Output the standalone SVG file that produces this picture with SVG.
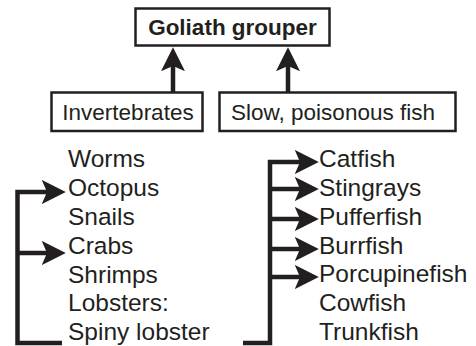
<svg xmlns="http://www.w3.org/2000/svg" width="476" height="346" viewBox="0 0 476 346">
<style>
.box{fill:#fff;stroke:#231f20;stroke-width:2.5}
.t{font-family:"Liberation Sans",Arial,sans-serif;font-size:22.5px;fill:#231f20}
.l{font-size:24.5px}
.b{font-weight:bold;text-anchor:middle}
.c{text-anchor:middle}
.ln{fill:none;stroke:#231f20;stroke-width:4.5}
.ar{marker-end:url(#ah)}
</style>
<defs>
<marker id="ah" markerUnits="userSpaceOnUse" markerWidth="24" markerHeight="24" viewBox="0 0 23 23" refX="5" refY="11.5" orient="auto">
<path d="M23,11.5 L0,0 L5,11.5 L0,23 Z" fill="#231f20"/>
</marker>
</defs>
<g id="goliath">
<rect class="box" x="135.5" y="8.5" width="194" height="37"/>
<text class="t b" x="232.5" y="35">Goliath grouper</text>
</g>
<g id="invertebrates">
<rect class="box" x="51.5" y="92.5" width="151" height="38.5"/>
<text class="t c" x="128" y="120">Invertebrates</text>
</g>
<g id="fish">
<rect class="box" x="219.5" y="92.5" width="236" height="38.5"/>
<text class="t c" x="333" y="120">Slow, poisonous fish</text>
</g>
<g id="invertebrate-list" class="t l">
<text x="68" y="167">Worms</text>
<text x="68" y="196">Octopus</text>
<text x="68" y="225">Snails</text>
<text x="68" y="254">Crabs</text>
<text x="68" y="283">Shrimps</text>
<text x="68" y="311">Lobsters:</text>
<text x="68" y="340">Spiny lobster</text>
</g>
<g id="fish-list" class="t l">
<text x="319" y="167">Catfish</text>
<text x="319" y="196">Stingrays</text>
<text x="319" y="225">Pufferfish</text>
<text x="319" y="254">Burrfish</text>
<text x="319" y="282">Porcupinefish</text>
<text x="319" y="311">Cowfish</text>
<text x="319" y="340">Trunkfish</text>
</g>
<g id="connectors">
<path class="ln ar" d="M173,92 V66"/>
<path class="ln ar" d="M288,92 V66"/>
<path class="ln ar" d="M62,343 H17.5 V192 H47"/>
<path class="ln ar" d="M17.5,253 H47"/>
<path class="ln ar" d="M243,343 H270 V162 H300"/>
<path class="ln ar" d="M270,189 H300"/>
<path class="ln ar" d="M270,219 H300"/>
<path class="ln ar" d="M270,249 H300"/>
<path class="ln ar" d="M270,277 H300"/>
</g>
</svg>
